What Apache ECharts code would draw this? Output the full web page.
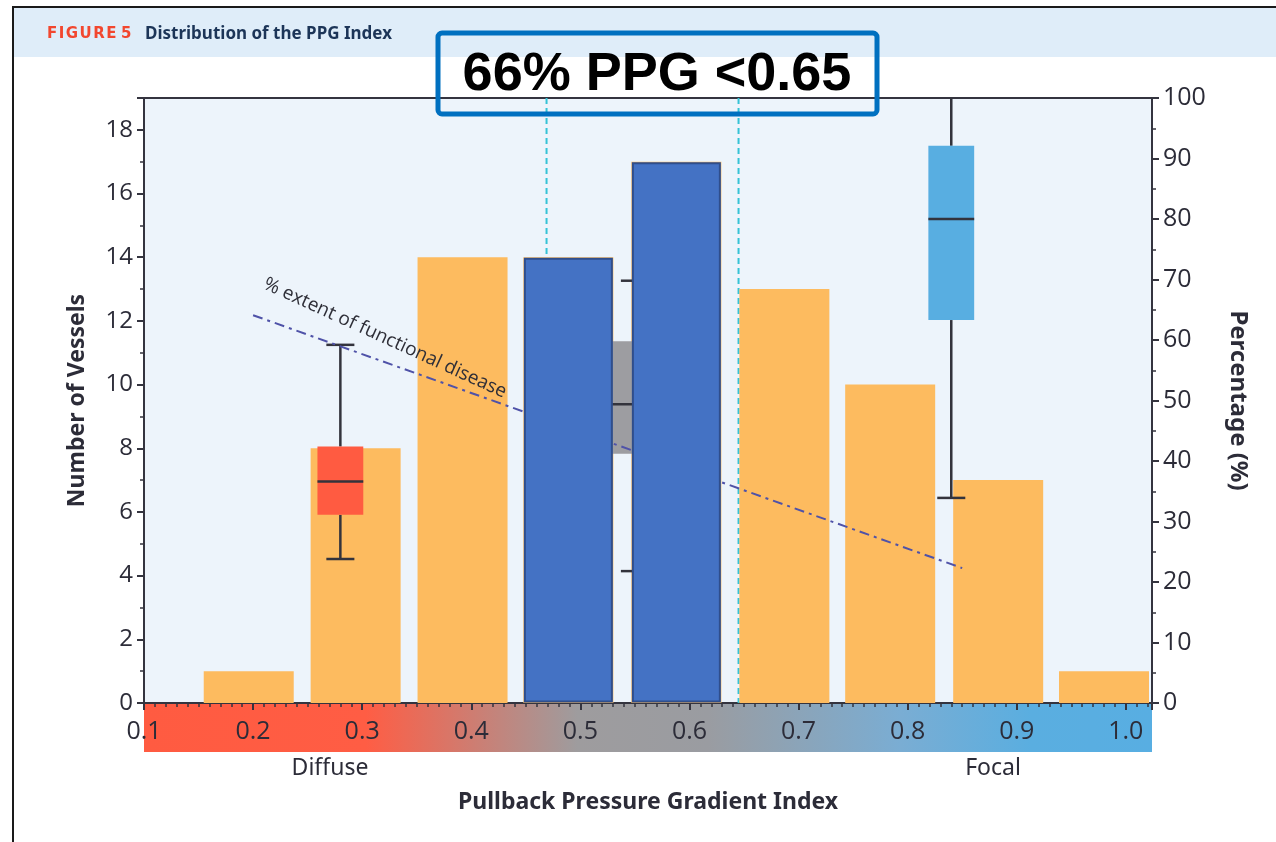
<!DOCTYPE html>
<html>
<head>
<meta charset="utf-8">
<title>Distribution of the PPG Index</title>
<script src="https://cdn.jsdelivr.net/npm/echarts@6/dist/echarts.min.js"></script>
<style>
  html, body { margin: 0; padding: 0; background: #ffffff; }
  #chart { width: 1276px; height: 842px; }
</style>
</head>
<body>
<div id="chart"></div>
<script>
// PPG bins: centre of each histogram bar and number of vessels in it
const binCenters = [0.196, 0.294, 0.392, 0.489, 0.588, 0.687, 0.784, 0.883, 0.980];
const vesselCounts = [1, 8, 14, 14, 17, 13, 10, 7, 1];
// bins below the 0.65 threshold that are highlighted in blue
const highlightCenters = [0.489, 0.588];
const highlightCounts = [14, 17];

// % extent of functional disease per pattern: [min, q1, median, q3, max]
const boxCenters = [0.28, 0.55, 0.84];
const boxStats = [
  [23.8, 31.1, 36.6, 42.4, 59.2],
  [21.8, 41.2, 49.4, 59.8, 69.8],
  [33.9, 63.3, 80.0, 92.1, 100]
];
const boxColors = ['#FF5B41', '#9D9DA1', '#58AEE1'];

// trend of functional disease extent along the PPG range
const trendX = [0.2, 0.85];
const trendY = [64.1, 22.3];

// dashed PPG cut-offs
const cutoffs = [0.469, 0.645];

const xTicks = [0.1, 0.2, 0.3, 0.4, 0.5, 0.6, 0.7, 0.8, 0.9, 1.0];

const BAR_W = 0.0825;
const BOX_W = 0.042;
const CAP_W = 0.0257;

const axisColor = '#34343f';
const textColor = '#2c2c38';
const numFont = '"Open Sans", "DejaVu Sans", sans-serif';
const labelFont = '"Noto Sans", sans-serif';

function barRenderer(fill, stroke) {
  return function (params, api) {
    const x = api.value(0), v = api.value(1);
    const p0 = api.coord([x - BAR_W / 2, v]);
    const p1 = api.coord([x + BAR_W / 2, 0]);
    const inset = stroke ? 1.5 : 0;
    return {
      type: 'rect',
      shape: {
        x: p0[0] + inset, y: p0[1] + inset,
        width: p1[0] - p0[0] - 2 * inset, height: p1[1] - p0[1] - 2 * inset
      },
      style: stroke ? { fill: fill, stroke: stroke, lineWidth: 2 } : { fill: fill }
    };
  };
}

function boxRenderer(params, api) {
  const x = api.value(0);
  const mn = api.value(1), q1 = api.value(2), md = api.value(3), q3 = api.value(4), mx = api.value(5);
  const L = api.coord([x - BOX_W / 2, q3]);
  const R = api.coord([x + BOX_W / 2, q1]);
  const cx = api.coord([x, 0])[0];
  const capL = api.coord([x - CAP_W / 2, 0])[0];
  const capR = api.coord([x + CAP_W / 2, 0])[0];
  const yMin = api.coord([x, mn])[1];
  const yMax = api.coord([x, mx])[1];
  const yMed = api.coord([x, md])[1];
  const line = { stroke: '#33333c', lineWidth: 2.5 };
  const children = [
    { type: 'line', shape: { x1: cx, y1: yMax, x2: cx, y2: L[1] }, style: line },
    { type: 'line', shape: { x1: cx, y1: R[1], x2: cx, y2: yMin }, style: line },
    { type: 'line', shape: { x1: capL, y1: yMin, x2: capR, y2: yMin }, style: line },
    { type: 'rect', shape: { x: L[0], y: L[1], width: R[0] - L[0], height: R[1] - L[1] },
      style: { fill: boxColors[params.dataIndex] } },
    { type: 'line', shape: { x1: L[0], y1: yMed, x2: R[0], y2: yMed }, style: line }
  ];
  if (mx < 100) {
    children.splice(2, 0, { type: 'line', shape: { x1: capL, y1: yMax, x2: capR, y2: yMax }, style: line });
  }
  return { type: 'group', children: children };
}

function cutoffRenderer(params, api) {
  const x = api.value(0);
  const top = api.coord([x, 19]);
  const bottom = api.coord([x, 0]);
  return {
    type: 'line',
    shape: { x1: top[0], y1: top[1], x2: bottom[0], y2: bottom[1] },
    style: { stroke: '#35C3D6', lineWidth: 2, lineDash: [6, 4] }
  };
}

const chart = echarts.init(document.getElementById('chart'), null, { renderer: 'canvas' });

const option = {
  backgroundColor: '#ffffff',
  animation: false,
  grid: {
    left: 144, right: 124, top: 98, bottom: 139,
    show: true, backgroundColor: '#EDF4FB', borderColor: axisColor, borderWidth: 2
  },
  xAxis: {
    type: 'value',
    min: xTicks[0], max: 1.024, interval: 0.1,
    name: 'Pullback Pressure Gradient Index',
    nameLocation: 'middle', nameGap: 88,
    nameTextStyle: { fontFamily: labelFont, fontWeight: 'bold', fontSize: 23, color: textColor },
    axisLine: { show: true, lineStyle: { color: axisColor, width: 2 } },
    axisTick: { show: true, inside: false, length: 7, lineStyle: { color: axisColor, width: 2 } },
    minorTick: { show: true, splitNumber: 10, length: 4, lineStyle: { color: axisColor, width: 1.5 } },
    splitLine: { show: false },
    axisLabel: {
      margin: 16, fontSize: 25, color: textColor, fontFamily: numFont, showMaxLabel: false,
      formatter: function (v) { return v.toFixed(1); }
    }
  },
  yAxis: [
    {
      type: 'value', min: 0, max: 19, interval: 2, position: 'left',
      name: 'Number of Vessels', nameLocation: 'middle', nameGap: 55, nameRotate: 90,
      nameTextStyle: { fontFamily: labelFont, fontWeight: 'bold', fontSize: 23, color: textColor },
      axisLine: { show: true, lineStyle: { color: axisColor, width: 2 } },
      axisTick: { show: true, length: 7, lineStyle: { color: axisColor, width: 2 } },
      minorTick: { show: true, splitNumber: 2, length: 4, lineStyle: { color: axisColor, width: 1.5 } },
      splitLine: { show: false },
      axisLabel: { margin: 11, fontSize: 24, color: textColor, fontFamily: numFont, showMaxLabel: false }
    },
    {
      type: 'value', min: 0, max: 100, interval: 10, position: 'right',
      name: 'Percentage (%)', nameLocation: 'middle', nameGap: 74, nameRotate: -90,
      nameTextStyle: { fontFamily: labelFont, fontWeight: 'bold', fontSize: 24, color: textColor },
      axisLine: { show: true, lineStyle: { color: axisColor, width: 2 } },
      axisTick: { show: true, length: 7, lineStyle: { color: axisColor, width: 2 } },
      minorTick: { show: true, splitNumber: 2, length: 4, lineStyle: { color: axisColor, width: 1.5 } },
      splitLine: { show: false },
      axisLabel: { margin: 11, fontSize: 25, color: textColor, fontFamily: numFont }
    }
  ],
  series: [
    {
      type: 'custom', name: 'cutoffs', z: 1,
      renderItem: cutoffRenderer,
      data: cutoffs.map(function (c) { return [c]; }),
      encode: { x: 0 }
    },
    {
      type: 'custom', name: 'vessels', z: 2,
      renderItem: barRenderer('#FDBB5F', null),
      data: binCenters.map(function (c, i) { return [c, vesselCounts[i]]; }),
      encode: { x: 0, y: 1 }
    },
    {
      type: 'custom', name: 'extent', yAxisIndex: 1, z: 3,
      renderItem: boxRenderer,
      data: boxCenters.map(function (c, i) { return [c].concat(boxStats[i]); }),
      encode: { x: 0, y: [1, 2, 3, 4, 5] }
    },
    {
      type: 'line', name: 'trend', yAxisIndex: 1, z: 3,
      symbol: 'none',
      lineStyle: { color: '#4F52A8', width: 2, type: [10, 5, 3, 5] },
      data: trendX.map(function (x, i) { return [x, trendY[i]]; })
    },
    {
      type: 'custom', name: 'ppg < 0.65', z: 4,
      renderItem: barRenderer('#4472C4', '#2F4E8C'),
      data: highlightCenters.map(function (c, i) { return [c, highlightCounts[i]]; }),
      encode: { x: 0, y: 1 }
    }
  ],
  graphic: [
    // page frame and figure header band
    { type: 'rect', z: -2, shape: { x: 13, y: 8, width: 1263, height: 49 }, style: { fill: '#DFEDF9' } },
    { type: 'line', z: 5, shape: { x1: 12, y1: 7, x2: 1276, y2: 7 }, style: { stroke: '#1a1a1a', lineWidth: 2 } },
    { type: 'line', z: 5, shape: { x1: 13, y1: 7, x2: 13, y2: 842 }, style: { stroke: '#1a1a1a', lineWidth: 2 } },
    { type: 'text', z: 5, style: { x: 47, y: 34, text: 'F\u200AI\u200AG\u200AU\u200AR\u200AE\u2009\u200A5', fill: '#F2472F',
        font: 'bold 15px "DejaVu Sans", sans-serif', verticalAlign: 'middle' } },
    { type: 'text', z: 5, style: { x: 145, y: 34, text: 'Distribution of the PPG Index', fill: '#1C3558',
        font: 'bold 17px "Noto Sans", sans-serif', verticalAlign: 'middle' } },
    // colour strip from diffuse (red) to focal (blue) under the PPG axis
    { type: 'rect', z: -1, shape: { x: 144, y: 704, width: 1008, height: 48 },
      style: { fill: new echarts.graphic.LinearGradient(0, 0, 1, 0, [
        { offset: 0, color: '#FF5B41' },
        { offset: 0.22, color: '#FF5D44' },
        { offset: 0.43, color: '#9E9C9E' },
        { offset: 0.56, color: '#9A9CA1' },
        { offset: 0.75, color: '#7AADD3' },
        { offset: 0.88, color: '#5AAEE0' },
        { offset: 1, color: '#58AEE2' }
      ]) } },
    { type: 'text', z: 5, style: { x: 330, y: 768, text: 'Diffuse', fill: textColor,
        font: '23px "Noto Sans", sans-serif', align: 'center', verticalAlign: 'middle' } },
    { type: 'text', z: 5, style: { x: 993, y: 768, text: 'Focal', fill: textColor,
        font: '23px "Noto Sans", sans-serif', align: 'center', verticalAlign: 'middle' } },
    // label along the trend line
    { type: 'text', z: 6, x: 385, y: 338, rotation: -24.5 * Math.PI / 180,
      style: { x: 0, y: 0, text: '% extent of functional disease', fill: '#2f2f38',
        font: '19px "Open Sans", sans-serif', align: 'center', verticalAlign: 'middle' } },
    // headline box
    { type: 'rect', z: 10, shape: { x: 438, y: 33, width: 439, height: 81, r: 4 },
      style: { fill: 'none', stroke: '#0070C0', lineWidth: 5 } },
    { type: 'text', z: 10, style: { x: 657, y: 75, text: '66% PPG <0.65', fill: '#000000',
        font: 'bold 54px "Liberation Sans", sans-serif', align: 'center', verticalAlign: 'middle' } }
  ]
};

chart.setOption(option);
</script>
</body>
</html>
